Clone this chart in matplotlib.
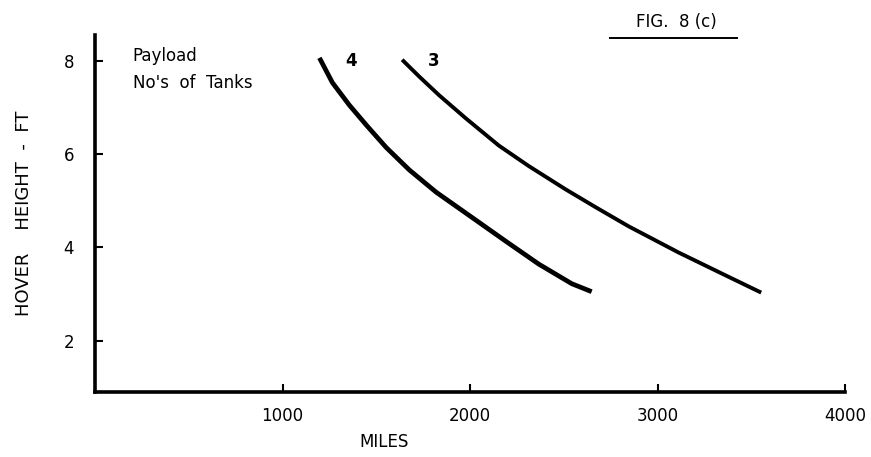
import matplotlib
matplotlib.use("Agg")
import matplotlib.pyplot as plt

# values (miles, hover height in ft)
tanks4_miles = [1197, 1266, 1356, 1447, 1553, 1676, 1820, 2011, 2191, 2367, 2543, 2649]
tanks4_height = [8.06, 7.53, 7.05, 6.62, 6.14, 5.66, 5.18, 4.64, 4.13, 3.64, 3.22, 3.05]
tanks3_miles = [1638, 1729, 1835, 1979, 2154, 2314, 2511, 2670, 2846, 3112, 3378, 3553]
tanks3_height = [8.02, 7.66, 7.26, 6.76, 6.18, 5.74, 5.24, 4.86, 4.45, 3.89, 3.37, 3.03]
x_ticks = [1000, 2000, 3000, 4000]
y_ticks = [2, 4, 6, 8]

plt.rcParams['font.family'] = ['DejaVu Sans']

fig = plt.figure(figsize=(8.71, 4.57), dpi=100)
ax = fig.add_axes([95 / 871, 65 / 457, 750 / 871, 357 / 457])

ax.plot(tanks4_miles, tanks4_height, color='black', lw=3.4,
        solid_capstyle='butt', solid_joinstyle='round')
ax.plot(tanks3_miles, tanks3_height, color='black', lw=2.8,
        solid_capstyle='butt', solid_joinstyle='round')

ax.set_xlim(0, 3990)
ax.set_ylim(0.9, 8.55)

for s in ['top', 'right']:
    ax.spines[s].set_visible(False)
for s in ['left', 'bottom']:
    ax.spines[s].set_linewidth(2.6)

ax.set_xticks(x_ticks)
ax.set_yticks(y_ticks)
ax.tick_params(direction='in', length=6, width=1.5, labelsize=12)
ax.tick_params(axis='x', pad=11)
ax.tick_params(axis='y', pad=15)

ax.text(0.05, 0.94, 'Payload', transform=ax.transAxes, fontsize=12, va='center')
ax.text(0.05, 0.865, "No's  of  Tanks", transform=ax.transAxes, fontsize=12, va='center')
ax.text(1335, 8.0, '4', fontsize=12, fontweight='bold', va='center')
ax.text(1775, 8.0, '3', fontsize=12, fontweight='bold', va='center')

ax.set_ylabel('HOVER    HEIGHT  -  FT', fontsize=13, labelpad=22)
ax.set_xlabel('MILES', fontsize=12, va='center')
ax.xaxis.set_label_coords((384 - 95) / 750, -(442 - 392) / 357)

fig.text(676 / 871, 1 - 22 / 457, 'FIG.  8 (c)', fontsize=12, ha='center', va='center')
fig.add_artist(plt.Line2D([610 / 871, 737 / 871], [1 - 38 / 457] * 2, color='black', lw=1.4))

fig.savefig('out.png', dpi=100)
